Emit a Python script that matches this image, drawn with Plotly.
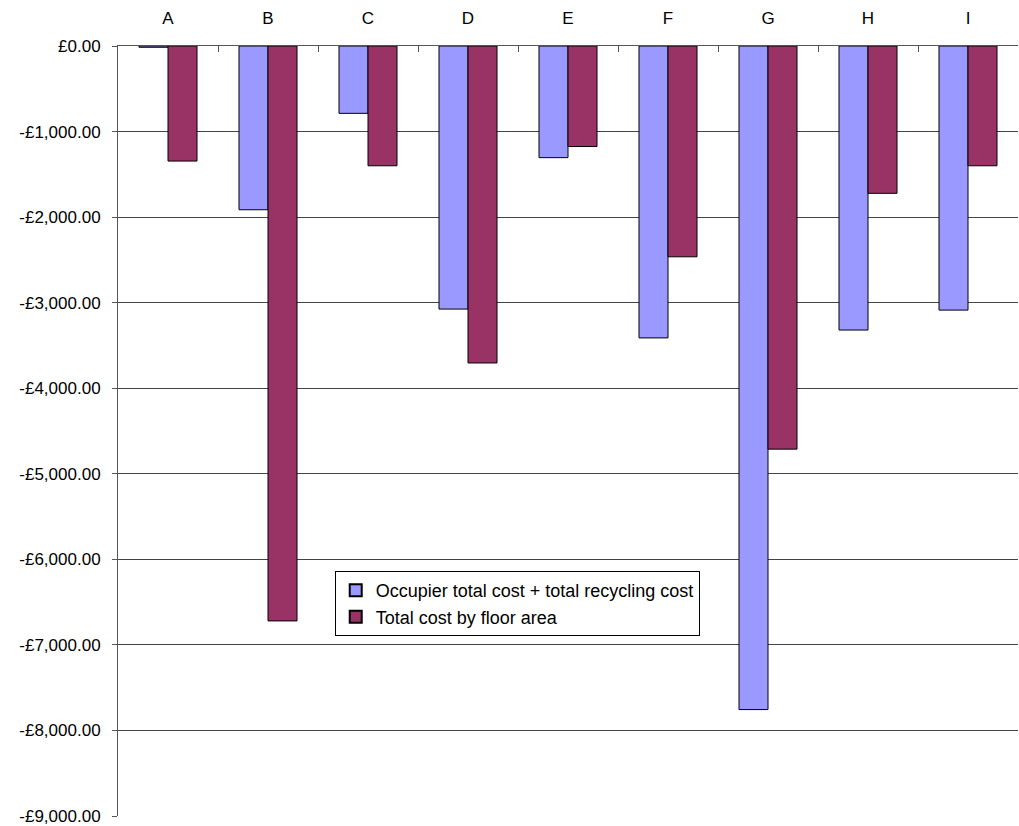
import plotly.graph_objects as go

categories = ["A", "B", "C", "D", "E", "F", "G", "H", "I"]
occupier_recycling = [-15, -1914, -787, -3075, -1305, -3412, -7756, -3320, -3087]
floor_area = [-1345, -6720, -1400, -3705, -1175, -2464, -4712, -1722, -1400]
series_names = ["Occupier total cost + total recycling cost", "Total cost by floor area"]
y_tick_values = [0, -1000, -2000, -3000, -4000, -5000, -6000, -7000, -8000, -9000]
y_tick_labels = ["£0.00", "-£1,000.00", "-£2,000.00", "-£3,000.00", "-£4,000.00",
                 "-£5,000.00", "-£6,000.00", "-£7,000.00", "-£8,000.00", "-£9,000.00"]

FONT = "Liberation Sans, Arial, sans-serif"

fig = go.Figure()
fig.add_trace(go.Bar(x=categories, y=occupier_recycling, name=series_names[0],
                     marker=dict(color="#9999FF", line=dict(color="#000000", width=1))))
fig.add_trace(go.Bar(x=categories, y=floor_area, name=series_names[1],
                     marker=dict(color="#993366", line=dict(color="#000000", width=1))))

fig.update_layout(
    width=1019, height=826,
    margin=dict(l=118, r=1, t=46, b=10),
    paper_bgcolor="white", plot_bgcolor="white",
    barmode="group", bargap=0.42, bargroupgap=0,
    font=dict(family=FONT, size=17, color="black"),
    legend=dict(
        x=0.2408, y=0.318, xanchor="left", yanchor="top",
        bgcolor="white", bordercolor="black", borderwidth=1,
        font=dict(family=FONT, size=18, color="black"),
        itemsizing="constant", tracegroupgap=0,
    ),
    showlegend=True,
)

fig.update_xaxes(
    side="top", type="category",
    showline=True, linecolor="#555555", linewidth=1,
    ticks="inside", ticklen=6, tickcolor="#555555", tickson="boundaries",
    ticklabelstandoff=14,
    showgrid=False, mirror=False,
    tickfont=dict(family=FONT, size=17, color="black"),
)
fig.update_yaxes(
    range=[-9000, 0], tickvals=y_tick_values, ticktext=y_tick_labels,
    showline=True, linecolor="#555555", linewidth=1,
    ticks="outside", ticklen=5, tickcolor="#555555",
    ticklabelstandoff=8,
    showgrid=True, gridcolor="#444444", gridwidth=1,
    zeroline=False,
    tickfont=dict(family=FONT, size=17, color="black"),
)

fig.write_html("out.html")
